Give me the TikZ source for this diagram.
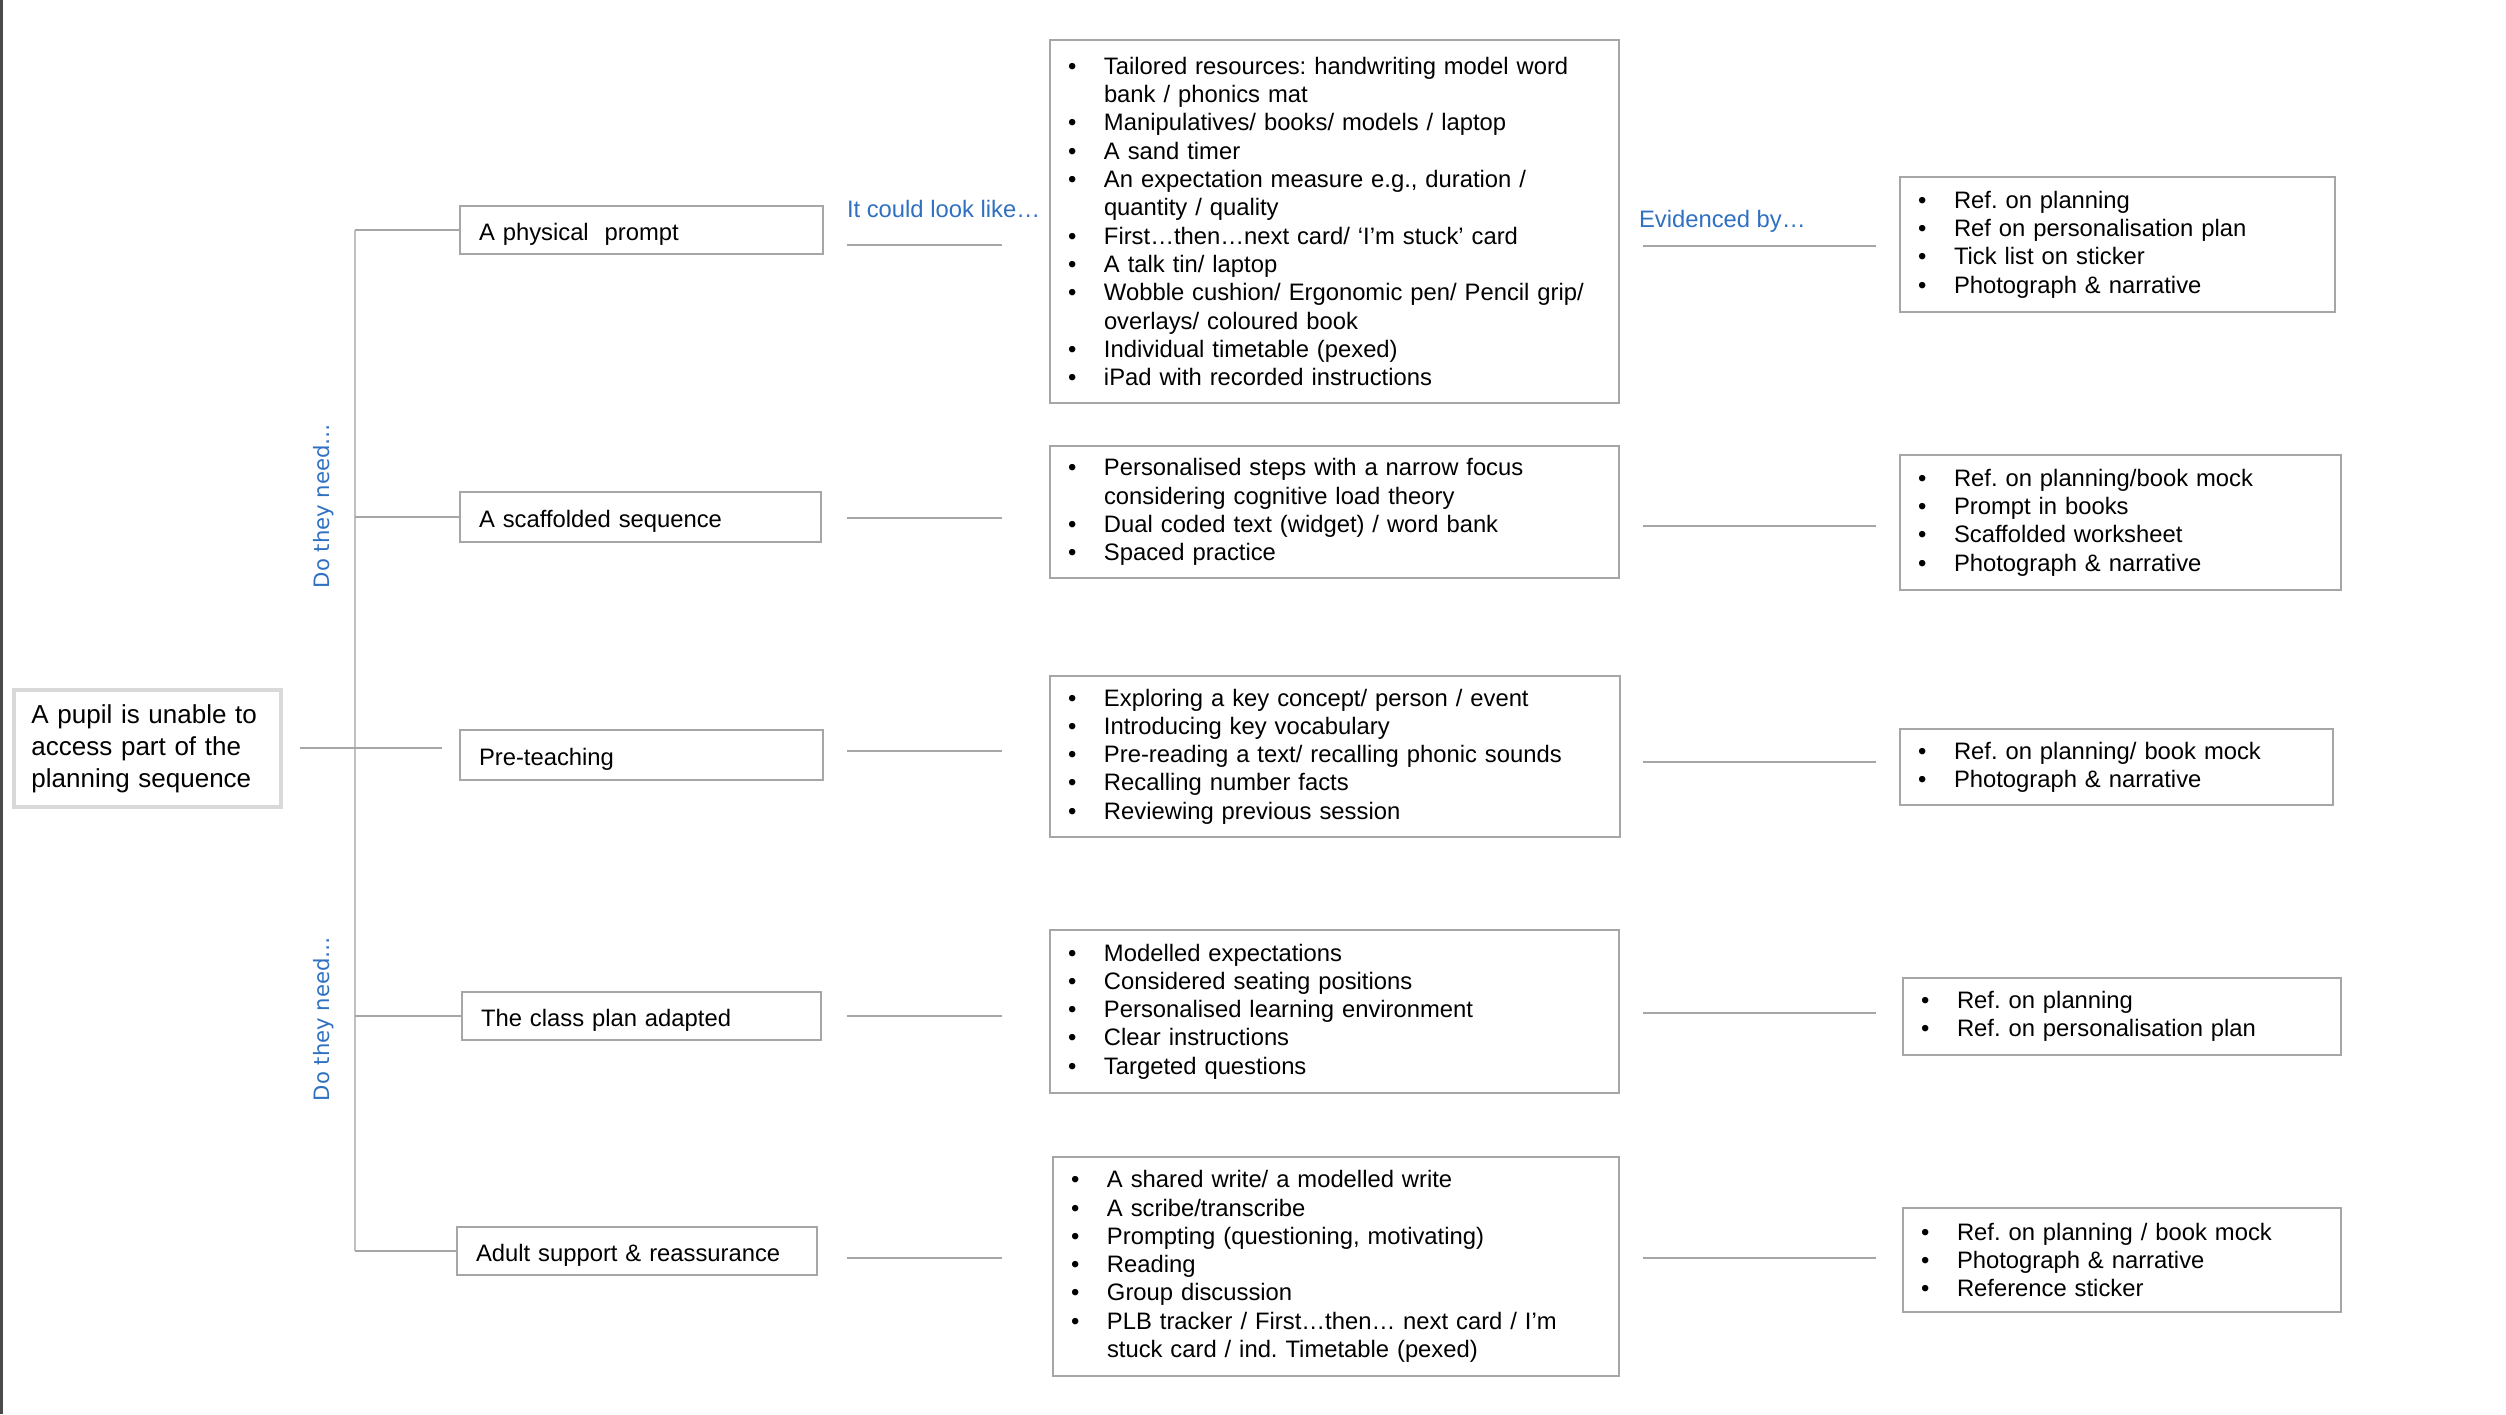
\documentclass[tikz,border=0pt]{standalone}
\usepackage{fontspec}
\setmainfont{Liberation Sans}
\newfontfamily\dejavu{DejaVu Sans}
\frenchspacing
\definecolor{boxgray}{HTML}{A6A6A6}
\definecolor{rootgray}{HTML}{D9D9D9}
\definecolor{linegray}{HTML}{A6A6A6}
\definecolor{trunkgray}{HTML}{C0C0C0}
\definecolor{labelblue}{HTML}{2F70C1}
\definecolor{edgedark}{HTML}{4A4A4A}
\newcommand\itm{\makebox[18pt][l]{\textbullet}}
\newcommand\cnt{\hspace*{18pt}}
\begin{document}
\begin{tikzpicture}[x=0.5pt,y=-0.5pt,
  every node/.style={inner sep=0pt, outer sep=0pt},
  listbox/.style={draw=boxgray, line width=1.25pt, rectangle, anchor=north west,
    inner xsep=9pt, inner ysep=0pt, align=left,
    font=\fontsize{11.9}{14.15}\selectfont},
  stagebox/.style={draw=boxgray, line width=1.25pt, rectangle, anchor=north west,
    inner xsep=9.5pt, inner ysep=0pt, align=left, text height=10.5pt, text depth=0pt,
    font=\fontsize{11.9}{14.15}\selectfont},
  rootbox/.style={draw=rootgray, line width=1.6pt, rectangle, anchor=north west,
    inner xsep=8.75pt, inner ysep=0pt, align=left,
    font=\fontsize{13}{16}\selectfont},
  conn/.style={draw=linegray, line width=0.6pt},
  trunk/.style={draw=trunkgray, line width=0.6pt},
  cue/.style={text=labelblue, anchor=base west, font=\fontsize{11.9}{14.15}\selectfont},
  askcue/.style={text=labelblue, rotate=90, font=\dejavu\fontsize{10.6}{12}\selectfont}
]
\useasboundingbox (0,0) rectangle (2506,1414);
\fill[edgedark] (0,0) rectangle (3,1414);

% root
\node[rootbox, minimum width=133.5pt, minimum height=58.5pt, text width=116pt] (root) at (14,690)
  {A pupil is unable to\\access part of the\\planning sequence};

% stage boxes
\node[stagebox, minimum width=181.5pt, minimum height=24pt, text width=162.5pt] (p1) at (460,206) {A physical\ \ prompt};
\node[stagebox, minimum width=180.5pt, minimum height=25pt, text width=161.5pt] (p2) at (460,492) {A scaffolded sequence};
\node[stagebox, minimum width=181.5pt, minimum height=25pt, text width=162.5pt] (p3) at (460,730) {Pre-teaching};
\node[stagebox, minimum width=179.5pt, minimum height=24pt, text width=160.5pt] (p4) at (462,992) {The class plan adapted};
\node[stagebox, minimum width=180pt, minimum height=24pt, text width=161pt] (p5) at (457,1227) {Adult support \& reassurance};

% "looks like" boxes
\node[listbox, minimum width=284.5pt, minimum height=181.5pt, text width=266.5pt] (b1) at (1050,40) {%
\itm Tailored resources: handwriting model word\\
\cnt bank / phonics mat\\
\itm Manipulatives/ books/ models / laptop\\
\itm A sand timer\\
\itm An expectation measure e.g., duration /\\
\cnt quantity / quality\\
\itm First…then…next card/ ‘I’m stuck’ card\\
\itm A talk tin/ laptop\\
\itm Wobble cushion/ Ergonomic pen/ Pencil grip/\\
\cnt overlays/ coloured book\\
\itm Individual timetable (pexed)\\
\itm iPad with recorded instructions};
\node[listbox, minimum width=284.5pt, minimum height=66pt, text width=266.5pt] (b2) at (1050,446) {%
\itm Personalised steps with a narrow focus\\
\cnt considering cognitive load theory\\
\itm Dual coded text (widget) / word bank\\
\itm Spaced practice};
\node[listbox, minimum width=285pt, minimum height=80.5pt, text width=267pt] (b3) at (1050,676) {%
\itm Exploring a key concept/ person / event\\
\itm Introducing key vocabulary\\
\itm Pre-reading a text/ recalling phonic sounds\\
\itm Recalling number facts\\
\itm Reviewing previous session};
\node[listbox, minimum width=284.5pt, minimum height=81.5pt, text width=266.5pt] (b4) at (1050,930) {%
\itm Modelled expectations\\
\itm Considered seating positions\\
\itm Personalised learning environment\\
\itm Clear instructions\\
\itm Targeted questions};
\node[listbox, minimum width=283pt, minimum height=109.5pt, text width=265pt] (b5) at (1053,1157) {%
\itm A shared write/ a modelled write\\
\itm A scribe/transcribe\\
\itm Prompting (questioning, motivating)\\
\itm Reading\\
\itm Group discussion\\
\itm PLB tracker / First…then… next card / I’m\\
\cnt stuck card / ind. Timetable (pexed)};

% evidence boxes
\node[listbox, minimum width=217.5pt, minimum height=67.5pt, text width=199.5pt] (e1) at (1900,177) {%
\itm Ref. on planning\\
\itm Ref on personalisation plan\\
\itm Tick list on sticker\\
\itm Photograph \& narrative};
\node[listbox, minimum width=220.5pt, minimum height=67.5pt, text width=202.5pt] (e2) at (1900,455) {%
\itm Ref. on planning/book mock\\
\itm Prompt in books\\
\itm Scaffolded worksheet\\
\itm Photograph \& narrative};
\node[listbox, minimum width=216.5pt, minimum height=38pt, text width=198.5pt] (e3) at (1900,729) {%
\itm Ref. on planning/ book mock\\
\itm Photograph \& narrative};
\node[listbox, minimum width=219pt, minimum height=38.5pt, text width=201pt] (e4) at (1903,978) {%
\itm Ref. on planning\\
\itm Ref. on personalisation plan};
\node[listbox, minimum width=219pt, minimum height=52pt, text width=201pt] (e5) at (1903,1208) {%
\itm Ref. on planning / book mock\\
\itm Photograph \& narrative\\
\itm Reference sticker};

% cue labels
\node[cue] (lookcue) at (847,217) {It could look like…};
\node[cue] (evcue) at (1639,227) {Evidenced by…};
\node[askcue] (ask1) at (324,506) {Do they need…};
\node[askcue] (ask2) at (324,1019) {Do they need…};

% tree connectors
\coordinate (r1) at (300,748);
\coordinate (r2) at (442,748);
\coordinate (j1) at (355,0 |- p1.west);
\coordinate (j2) at (355,0 |- p2.west);
\coordinate (j4) at (355,0 |- p4.west);
\coordinate (j5) at (355,0 |- p5.west);
\draw[trunk] (j1) -- (j5);
\draw[conn] (r1) -- (r2);
\draw[conn] (j1) -- (p1.west);
\draw[conn] (j2) -- (p2.west);
\draw[conn] (j4) -- (p4.west);
\draw[conn] (j5) -- (p5.west);

% column connectors
\foreach \i/\y in {1/245,2/518,3/751,4/1016,5/1258}{
  \coordinate (la\i) at (847,\y);
  \coordinate (lb\i) at (1002,\y);
  \draw[conn] (la\i) -- (lb\i);
}
\foreach \i/\y in {1/246,2/526,3/762,4/1013,5/1258}{
  \coordinate (ea\i) at (1643,\y);
  \coordinate (eb\i) at (1876,\y);
  \draw[conn] (ea\i) -- (eb\i);
}
\end{tikzpicture}
\end{document}
